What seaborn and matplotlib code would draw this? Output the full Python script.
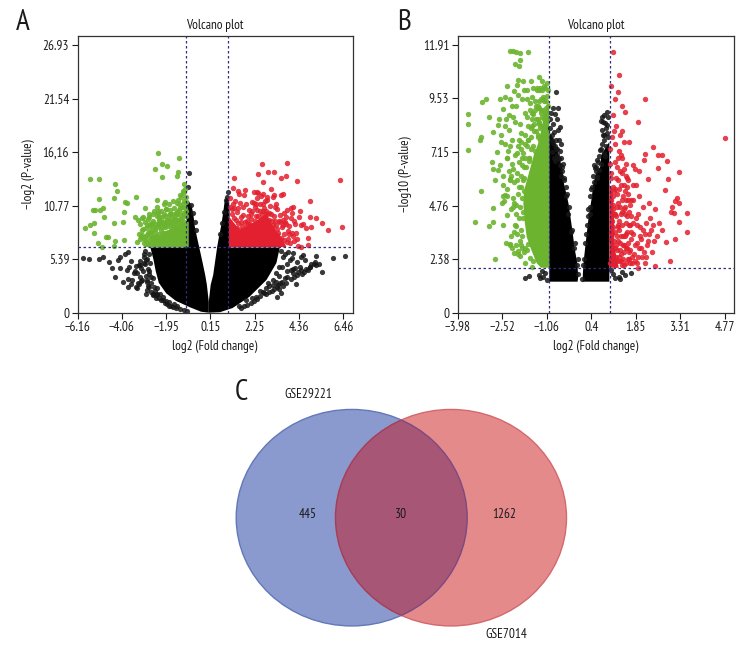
import matplotlib
matplotlib.use('Agg')
import logging
import matplotlib.pyplot as plt
from matplotlib.patches import Ellipse
import seaborn as sns

logging.getLogger('matplotlib.font_manager').setLevel(logging.ERROR)

# Panel A
a_xticks = [-6.16, -4.06, -1.95, 0.15, 2.25, 4.36, 6.46]
a_xlabels = ['−6.16', '−4.06', '−1.95', '0.15', '2.25', '4.36', '6.46']
a_yticks = [0, 5.39, 10.77, 16.16, 21.54, 26.93]
a_ylabels = ['0', '5.39', '10.77', '16,16', '21.54', '26.93']

a_green_x = [-5.56, -5.16, -4.37, -4.30, -5.13, -4.45, -3.90, -3.79, -3.38, -5.43, -5.35, -5.09, -4.93, -3.95, -3.43,
             -5.80, -5.56, -5.40, -4.90, -3.98, -4.41, -5.40, -4.80, -4.72, -5.21, -4.37, -3.95, -4.45, -5.00, -2.34,
             -1.33, -2.13, -1.93, -2.48, -1.37, -2.16, -1.45, -1.10, -1.13, -1.29, -1.37, -1.61, -2.00, -2.40,
             -3.30, -3.20, -3.10, -3.05, -2.95, -3.10, -3.00, -2.90, -2.80, -2.70, -2.75, -2.60, -2.60, -2.55, -2.50,
             -2.50, -2.40, -2.40, -2.35, -2.30, -2.30, -2.20, -2.20, -2.15, -2.10, -2.05, -2.00, -2.00, -1.95, -1.90,
             -1.90, -1.85, -1.80, -1.80, -1.75, -1.70, -1.70, -1.65, -1.60, -1.60, -1.55, -1.50, -1.50, -1.45, -1.45,
             -1.40, -1.35, -1.30, -1.30, -1.25, -1.20, -1.20, -1.15, -1.15, -1.10, -1.10, -1.05, -1.05, -1.00, -1.00,
             -3.35, -3.15, -2.85, -2.65, -2.45, -2.25, -2.05, -1.85, -1.65, -2.75, -2.35, -2.95,
             -3.25, -3.10, -2.95, -2.85, -2.78, -2.70, -2.62, -2.55, -2.48, -2.42,
             -2.36, -2.28, -2.22, -2.18, -2.12, -2.06, -2.02, -1.96, -1.92, -1.88,
             -1.82, -1.78, -1.72, -1.68, -1.62, -1.58, -1.52, -1.48, -1.42, -1.38,
             -1.32, -1.28, -1.22, -1.18, -1.12, -1.08, -1.02, -2.58, -2.33, -2.08,
             -1.84, -1.57, -1.34, -1.09, -2.68, -2.44, -2.14, -1.94, -1.74, -1.54,
             -3.20, -3.05, -2.90, -2.80, -2.68, -2.56, -2.46, -2.34, -2.26, -2.16,
             -2.04, -1.98, -1.86, -1.76, -1.66, -1.56, -1.46, -1.36, -1.26, -1.16,
             -3.00, -2.74, -2.50, -2.30, -2.10, -1.90, -1.72, -1.50, -1.33, -1.03]
a_green_y = [13.46, 13.46, 12.95, 12.25, 11.44, 11.58, 11.10, 11.00, 11.68, 10.34, 10.30, 10.34, 10.50, 10.17, 9.66,
             8.49, 8.83, 8.99, 9.60, 9.16, 9.00, 7.99, 7.58, 7.62, 7.05, 7.20, 7.30, 6.75, 6.60, 16.10,
             15.60, 14.97, 14.80, 14.43, 14.13, 13.60, 13.70, 12.90, 12.20, 11.85, 11.35, 11.20, 11.15, 11.30,
             9.30, 8.90, 9.50, 8.40, 9.10, 7.80, 7.40, 7.10, 8.00, 8.70, 9.60, 9.20, 7.60, 10.20, 8.40,
             7.00, 9.70, 10.60, 8.90, 7.90, 9.30, 10.20, 8.30, 7.30, 9.00, 10.90, 9.70, 8.00, 10.40, 8.70,
             7.20, 9.30, 10.90, 8.00, 9.90, 8.50, 7.50, 9.20, 10.50, 8.10, 9.70, 10.00, 8.80, 11.00, 9.30,
             8.40, 10.30, 9.80, 9.00, 11.60, 10.60, 9.50, 12.00, 10.00, 11.20, 9.10, 12.40, 10.50, 11.60, 9.70,
             7.10, 7.60, 7.80, 8.10, 7.60, 7.10, 7.45, 7.75, 7.35, 9.90, 10.00, 10.50,
             7.90, 8.30, 7.60, 8.80, 7.30, 8.20, 9.00, 7.20, 8.90, 7.70,
             8.60, 9.60, 7.60, 9.10, 8.00, 9.90, 8.60, 7.40, 9.30, 8.10,
             9.80, 7.30, 9.40, 8.00, 8.70, 7.40, 9.10, 7.80, 10.10, 7.30,
             8.60, 10.50, 7.60, 8.70, 9.80, 7.20, 10.20, 8.60, 7.10, 7.00,
             9.00, 7.10, 7.20, 8.20, 7.50, 7.40, 8.60, 7.10, 8.90, 8.40,
             7.40, 9.60, 8.50, 9.40, 7.80, 9.90, 8.10, 10.20, 8.80, 9.60,
             9.10, 10.40, 9.00, 10.30, 9.90, 9.40, 9.90, 9.30, 9.30, 10.90,
             7.00, 8.90, 7.50, 9.10, 7.00, 7.70, 7.10, 7.30, 10.90, 11.10]

a_red_x = [1.28, 2.58, 3.80, 2.39, 2.86, 3.16, 3.52, 3.73, 2.65, 4.28, 6.30, 1.23, 1.47, 1.79, 2.34, 3.16, 3.60,
           4.87, 4.08, 4.40, 3.95, 4.87, 5.18, 5.42, 4.90, 4.70, 5.73, 6.40, 4.47, 4.80, 4.80, 3.92, 4.31, 4.47,
           4.02, 1.10, 1.18, 1.25, 1.32, 1.40, 1.48, 1.55, 1.62, 1.70, 1.78, 1.85, 1.92, 2.00, 2.05, 2.12, 2.18,
           2.25, 2.30, 2.38, 2.45, 2.50, 2.55, 2.60, 2.65, 2.72, 2.78, 2.85, 2.92, 2.98, 3.05, 3.12, 3.18, 3.25,
           3.32, 3.40, 3.48, 3.55, 3.62, 3.70, 3.78, 3.85, 3.95, 4.05, 4.15, 4.25, 1.15, 1.35, 1.60, 1.90, 2.10,
           2.35, 2.50, 2.70, 2.95, 3.10, 3.30, 3.50, 3.65, 3.80, 2.20, 2.62, 2.42, 2.82, 3.02, 1.72, 1.50, 1.22,
           1.12, 1.20, 1.30, 1.42, 1.52, 1.65, 1.75, 1.88, 1.98, 2.08,
           2.15, 2.22, 2.28, 2.36, 2.44, 2.52, 2.58, 2.66, 2.74, 2.80,
           2.88, 2.95, 3.00, 3.08, 3.15, 3.22, 3.30, 3.38, 3.45, 3.52,
           3.58, 3.66, 3.72, 3.82, 3.90, 4.00, 4.10, 4.20, 4.35, 4.55,
           1.08, 1.16, 1.26, 1.38, 1.46, 1.58, 1.68, 1.82, 1.94, 2.02,
           2.12, 2.20, 2.32, 2.40, 2.48, 2.56, 2.68, 2.76, 2.84, 2.90,
           3.02, 3.10, 3.20, 3.28, 3.36, 3.44, 3.60, 3.75, 3.88, 4.12]
a_red_y = [13.50, 15.00, 15.10, 14.00, 14.15, 14.15, 13.50, 13.70, 13.10, 13.25, 13.35, 12.50, 12.20, 12.35, 12.10, 11.80, 11.95,
           11.20, 10.67, 10.27, 10.50, 9.66, 9.50, 9.00, 8.66, 8.50, 8.32, 8.66, 8.83, 7.50, 6.80, 7.00, 6.70, 6.65,
           8.00, 11.50, 10.40, 9.50, 11.20, 10.10, 9.00, 11.00, 9.60, 10.60, 9.10, 10.90, 8.90, 10.30, 9.40, 11.10, 8.80,
           10.60, 9.70, 11.50, 9.00, 10.20, 11.70, 9.40, 10.90, 8.70, 10.20, 11.30, 9.30, 10.70, 8.50, 11.60, 9.70, 8.80,
           10.40, 9.20, 11.80, 8.60, 10.00, 9.10, 10.30, 8.20, 9.50, 7.70, 8.90, 7.40, 8.50, 8.40, 8.30, 8.40, 8.50,
           8.40, 8.30, 8.20, 8.20, 8.00, 7.80, 7.50, 7.30, 7.10, 12.10, 11.90, 12.00, 11.60, 12.40, 11.80, 11.90, 10.90,
           7.20, 8.20, 7.60, 8.50, 7.10, 8.70, 7.50, 9.20, 7.20, 9.90,
           8.40, 7.40, 9.20, 10.30, 8.00, 7.10, 9.90, 10.20, 7.50, 9.00,
           7.20, 10.00, 8.20, 9.20, 7.10, 10.60, 8.40, 7.40, 9.80, 7.10,
           8.80, 7.90, 9.60, 7.40, 8.70, 10.00, 9.20, 8.00, 9.60, 8.90,
           10.60, 9.90, 10.50, 9.30, 10.50, 9.10, 9.80, 8.60, 9.70, 8.90,
           10.20, 11.00, 10.90, 9.70, 10.90, 8.70, 10.50, 11.20, 9.90, 8.40,
           9.90, 8.80, 9.20, 10.90, 8.00, 9.10, 9.30, 8.90, 7.90, 7.20]

a_black_x = [-5.90, -5.60, -5.16, -4.93, -4.14, -3.74, -4.37, -3.98, -3.74, -3.35, -2.87, -4.14, -3.82, -3.50, -3.19,
             -2.87, -3.24, -2.92, -2.76, -2.60, -2.45, -2.90, -4.65, -4.50, -4.25, -3.60, -3.40, -3.15, -3.00, -2.75,
             -2.65, -3.55, -3.90, -2.80, -3.30,
             5.97, 6.53, 5.18, 4.55, 4.47, 5.42, 5.18, 4.87, 4.47, 4.08, 3.76, 3.45, 3.29, 3.05, 2.80, 3.92, 4.08,
             3.76, 4.85, 5.05, 4.25, 4.65, 4.20, 3.95, 3.50, 3.30, 4.05, 3.40,
             -0.85, -0.90, -0.78, -0.70, -0.60, -0.55, 0.72, 0.80, 0.90, 0.98, 0.95, 0.60,
             -3.00, -2.95, -2.85, -2.80, -2.75, -2.70, -2.68, -2.60, -2.55, -2.50,
             -2.40, -2.30, -2.20, -2.10, -2.00, -1.90, -1.80, -1.70, -1.60, -1.50,
             -3.10, -3.25, -3.40, -3.60, -3.75, -3.20, -3.05, -2.90, -2.65, -2.45,
             3.50, 3.60, 3.70, 3.85, 4.00, 4.15, 4.30, 3.40, 3.25, 3.10,
             2.95, 2.80, 2.65, 2.50, 2.35, 2.20, 2.05, 1.90, 1.75, 1.60,
             4.50, 4.70, 4.90, 5.10, 5.30, 3.70, 3.55, 3.35, 3.15, 2.95,
             -3.35, -3.20, -3.00, -2.85, -2.75, -2.95, -3.45, -3.70, -3.15, -2.60,
             -2.40, -2.25, -2.10, -1.95, -1.80, -1.65, -1.45, -1.30, -1.10, -0.95,
             3.55, 3.40, 3.25, 3.10, 2.90, 2.70, 2.50, 2.30, 2.10, 1.85,
             3.80, 3.95, 4.10, 4.25, 4.40, 4.60, 4.80, 3.60, 3.75, 1.50]
a_black_y = [5.47, 5.37, 5.37, 5.64, 5.64, 6.14, 3.62, 3.12, 2.62, 2.45, 2.30, 4.46, 4.30, 3.96, 3.62,
             3.12, 4.80, 5.30, 5.90, 1.90, 1.50, 1.85, 5.10, 4.45, 5.35, 5.20, 4.70, 4.50, 5.60, 4.20,
             3.55, 3.30, 5.90, 2.70, 2.95,
             5.47, 5.70, 5.70, 5.80, 5.60, 4.13, 4.80, 4.63, 4.30, 3.96, 3.62, 3.00, 2.62, 2.20, 1.90, 5.30, 6.00,
             4.90, 4.60, 4.90, 5.05, 5.30, 2.90, 3.35, 1.95, 1.60, 4.40, 2.40,
             14.10, 12.60, 10.80, 10.00, 9.10, 8.30, 9.00, 10.10, 11.30, 12.10, 11.60, 7.90,
             5.90, 4.90, 5.40, 4.40, 3.90, 5.00, 3.00, 3.50, 2.60, 2.20,
             1.90, 1.50, 1.30, 1.60, 1.00, 0.90, 1.10, 0.70, 0.90, 0.50,
             3.30, 2.85, 2.60, 2.85, 3.40, 5.20, 4.20, 3.70, 2.05, 1.75,
             6.20, 5.60, 5.90, 6.10, 5.50, 4.50, 4.10, 4.60, 4.00, 3.30,
             2.70, 2.50, 2.10, 1.70, 1.40, 1.20, 1.00, 0.80, 0.70, 0.50,
             3.90, 4.40, 4.90, 5.10, 4.90, 3.50, 3.10, 2.80, 2.40, 2.10,
             4.00, 4.80, 5.00, 3.30, 2.60, 6.20, 4.20, 4.60, 3.20, 1.80,
             2.50, 1.90, 1.30, 1.20, 0.70, 0.60, 0.70, 0.35, 0.30, 0.20,
             4.60, 3.70, 3.10, 2.80, 3.00, 2.00, 2.20, 1.60, 1.50, 1.25,
             4.20, 4.30, 3.60, 3.80, 4.60, 4.10, 4.30, 2.70, 3.00, 0.70]

a_black_left_x = [0.07, -0.02, -0.10, -0.25, -0.39, -0.50, -0.59, -0.67, -0.75, -0.90, -1.00, -0.95,
                  -2.70, -2.55, -2.45, -2.30, -1.95, -1.50, -0.83, -0.30, 0.07]
a_black_left_y = [1.10, 2.80, 3.80, 5.30, 6.64, 7.70, 8.65, 10.00, 10.80, 11.30, 10.80, 6.55,
                  6.55, 5.30, 4.20, 3.00, 1.95, 1.20, 0.55, 0.10, 0.00]
a_black_right_x = [0.07, 0.16, 0.28, 0.38, 0.47, 0.56, 0.65, 0.75, 0.83, 1.03, 1.06, 1.03,
                   3.44, 3.28, 2.81, 2.00, 1.20, 0.60, 0.07]
a_black_right_y = [1.10, 2.80, 3.80, 5.30, 6.64, 7.70, 8.65, 10.00, 11.30, 11.60, 10.00, 6.55,
                   6.55, 5.00, 3.30, 1.60, 0.47, 0.05, 0.00]
a_green_solid_x = [-0.88, -0.88, -1.30, -1.78, -2.25, -2.73, -3.04]
a_green_solid_y = [6.60, 9.16, 8.99, 8.32, 7.82, 7.14, 6.60]
a_red_solid_x = [1.03, 1.03, 1.54, 2.17, 2.81, 3.12, 3.59, 3.76]
a_red_solid_y = [6.60, 9.66, 8.32, 8.99, 10.00, 8.65, 7.31, 6.60]

# Panel B
b_xticks = [-3.98, -2.52, -1.06, 0.4, 1.85, 3.31, 4.77]
b_xlabels = ['−3.98', '−2.52', '−1.06', '0.4', '1.85', '3.31', '4.77']
b_yticks = [0, 2.38, 4.76, 7.15, 9.53, 11.91]
b_ylabels = ['0', '2.38', '4.76', '7.15', '9.53', '11.91']

b_green_x = [-2.26, -2.17, -2.06, -1.95, -1.69, -1.94, -2.09, -1.96, -2.02, -2.04, -2.35, -1.84, -1.59, -1.30, -1.22, -1.11,
             -1.06, -3.19, -3.06, -2.59, -2.43, -3.63, -3.63, -2.95, -2.48, -2.30, -2.65, -2.81, -3.22, -3.25, -3.65,
             -2.87, -2.81, -2.65, -3.22, -2.81, -2.54, -2.43, -3.41, -2.97, -2.81, -2.48, -2.76, -2.19, -2.15, -1.94, -1.78, -1.56,
             -2.70, -2.60, -2.55, -2.50, -2.45, -2.40, -2.38, -2.35, -2.30, -2.28, -2.25, -2.20, -2.18, -2.15, -2.10,
             -2.08, -2.05, -2.00, -1.98, -1.95, -1.90, -1.88, -1.85, -1.80, -1.78, -1.75, -1.70, -1.68, -1.65, -1.60,
             -1.58, -1.55, -1.50, -1.48, -1.45, -1.40, -1.38, -1.35, -1.30, -1.28, -1.25, -1.20, -1.18, -1.15, -1.10,
             -1.08, -1.05, -1.02, -2.25, -2.12, -2.02, -1.92, -1.82, -1.72, -1.62, -1.52, -1.42, -1.32, -1.22, -1.12,
             -2.35, -2.22, -2.08, -1.98, -1.86, -1.76, -1.64, -1.54, -1.44, -1.34, -1.24, -1.14, -1.04, -2.00, -1.90, -1.80,
             -2.55, -2.50, -2.42, -2.38, -2.33, -2.28, -2.24, -2.19, -2.16, -2.11,
             -2.07, -2.03, -1.99, -1.96, -1.93, -1.89, -1.86, -1.83, -1.81, -1.77,
             -1.74, -1.71, -1.69, -1.66, -1.63, -1.61, -1.59, -1.56, -1.53, -1.51,
             -1.47, -1.44, -1.42, -1.39, -1.36, -1.33, -1.31, -1.28, -1.25, -1.22,
             -2.18, -2.10, -2.03, -1.97, -1.91, -1.87, -2.30, -2.22, -2.14, -2.06,
             -1.20, -1.16, -1.12, -1.09, -1.06, -1.03, -1.15, -1.07, -1.27, -1.35,
             -2.75, -2.62, -2.50, -2.44, -2.36, -2.26, -2.20, -2.12, -2.04, -2.00,
             -1.95, -1.92, -1.88, -1.86, -1.84, -1.84, -1.82, -1.90, -1.78, -1.76,
             -1.72, -1.70, -1.66, -1.62, -1.58, -1.54, -1.50, -1.46, -1.42, -1.38,
             -1.34, -1.30, -1.26, -1.22, -1.18, -1.14, -2.40, -2.28, -2.16, -2.08]
b_green_y = [11.66, 11.65, 11.60, 11.55, 11.60, 11.25, 11.05, 10.98, 10.36, 10.15, 10.09, 10.30, 10.33, 10.50, 10.30, 10.00,
             9.65, 9.39, 9.50, 9.50, 9.58, 8.84, 8.38, 8.72, 9.05, 8.80, 8.35, 8.06, 7.83, 7.70, 7.24,
             6.72, 6.39, 6.35, 5.43, 4.67, 4.87, 5.24, 4.05, 3.87, 4.05, 3.90, 2.39, 2.86, 2.65, 2.53, 2.20, 2.05,
             7.15, 6.55, 7.90, 5.70, 4.95, 8.60, 6.90, 4.35, 8.15, 5.95, 7.40, 9.20, 6.40, 3.60, 8.50,
             4.80, 7.10, 9.70, 5.60, 3.20, 8.00, 6.55, 4.50, 9.90, 7.50, 5.30, 8.70, 3.05, 6.75, 9.35,
             7.80, 5.95, 10.00, 8.40, 7.20, 9.20, 6.60, 8.60, 9.90, 7.70, 8.90, 9.50, 6.90, 8.20, 9.10,
             7.50, 8.60, 9.20, 3.05, 9.85, 2.75, 7.30, 6.00, 9.50, 4.25, 8.85, 8.10, 9.10, 7.60, 8.80,
             5.20, 6.10, 3.85, 7.70, 5.10, 7.90, 6.90, 8.30, 6.40, 7.90, 8.30, 7.10, 8.00, 2.60, 3.00, 2.70,
             7.60, 6.10, 8.30, 5.50, 7.20, 9.50, 4.60, 6.60, 8.70, 3.90,
             9.20, 5.90, 7.40, 4.20, 8.40, 6.10, 9.50, 7.10, 5.40, 8.90,
             6.50, 9.90, 7.70, 8.30, 6.90, 9.00, 7.30, 8.60, 9.60, 7.40,
             8.10, 9.00, 7.00, 9.90, 7.80, 8.40, 9.40, 8.20, 9.00, 9.90,
             5.10, 7.00, 3.50, 6.70, 5.60, 2.90, 6.30, 3.40, 5.80, 4.40,
             9.60, 10.10, 8.90, 9.40, 10.20, 9.90, 8.60, 8.80, 10.00, 9.20,
             5.90, 8.60, 5.20, 7.50, 6.90, 5.90, 7.70, 4.90, 6.20, 5.30,
             4.70, 3.70, 6.90, 3.40, 4.20, 5.90, 6.50, 7.60, 2.90, 6.90,
             7.40, 2.80, 7.70, 2.45, 8.20, 8.90, 2.30, 9.40, 8.60, 10.00,
             9.10, 8.50, 9.50, 8.70, 9.00, 9.40, 3.10, 3.00, 4.70, 3.00]

b_red_x = [1.10, 1.32, 1.04, 1.26, 1.18, 2.15, 1.41, 1.50, 1.12, 1.94, 4.78, 2.41, 2.60, 2.71, 2.16, 2.87, 2.14, 3.26, 2.60,
           1.78, 1.84, 1.95, 2.27, 2.91, 2.80, 3.20, 3.28, 3.15, 3.04, 3.01, 3.10, 3.53, 3.26, 3.53, 3.15, 2.85, 2.98, 2.49,
           2.16, 1.94, 1.02, 1.05, 1.08, 1.10, 1.13, 1.15, 1.18, 1.20, 1.22, 1.25, 1.28, 1.30, 1.32, 1.35, 1.38, 1.40,
           1.42, 1.45, 1.48, 1.50, 1.52, 1.55, 1.58, 1.60, 1.62, 1.65, 1.68, 1.70, 1.75, 1.80, 1.85, 1.90, 1.95, 2.00,
           2.05, 2.10, 2.15, 2.20, 2.25, 2.30, 2.35, 2.42, 2.50, 2.55, 2.62, 2.70, 1.03, 1.07, 1.12, 1.17, 1.23, 1.27,
           1.33, 1.37, 1.43, 1.47, 1.53, 1.57, 1.63, 1.67, 1.72, 1.78, 1.82, 1.88, 1.93, 2.03, 2.13, 2.23, 2.33, 2.45,
           1.01, 1.04, 1.06, 1.09, 1.11, 1.14, 1.16, 1.19, 1.21, 1.24,
           1.26, 1.29, 1.31, 1.34, 1.36, 1.39, 1.41, 1.44, 1.46, 1.49,
           1.51, 1.54, 1.56, 1.59, 1.61, 1.64, 1.66, 1.69, 1.71, 1.74,
           1.03, 1.07, 1.12, 1.18, 1.24, 1.30, 1.36, 1.42, 1.48, 1.55,
           1.78, 1.83, 1.88, 1.93, 1.98, 2.04, 2.09, 2.18, 2.28, 2.38,
           1.02, 1.04, 1.06, 1.08, 1.10, 1.12, 1.14, 1.16, 1.18, 1.20,
           1.22, 1.24, 1.26, 1.28, 1.30, 1.33, 1.36, 1.38, 1.40, 1.43,
           1.46, 1.48, 1.50, 1.53, 1.56, 1.58, 1.60, 1.63, 1.66, 1.70,
           1.20, 1.26, 1.33, 1.40, 1.46, 1.52, 1.60, 1.76, 1.86, 1.96]
b_red_y = [11.59, 10.58, 10.10, 9.84, 9.51, 9.51, 9.20, 8.95, 8.80, 8.47, 7.76, 7.36, 7.02, 7.02, 7.06, 6.77, 6.80, 6.28, 6.42,
           6.55, 6.40, 6.30, 5.95, 5.95, 5.46, 5.09, 4.90, 4.95, 4.72, 4.50, 4.42, 4.42, 4.05, 3.58, 3.30, 3.16, 2.31, 2.09,
           2.19, 1.97, 7.30, 6.20, 4.10, 5.60, 8.10, 3.20, 6.70, 2.50, 8.30, 4.70, 5.90, 7.20, 3.70, 6.30, 2.30, 8.10,
           5.00, 3.00, 7.60, 4.40, 6.10, 2.20, 3.60, 5.30, 7.60, 2.70, 4.80, 3.30, 5.70, 2.60, 4.20, 3.10, 5.20, 3.80,
           2.50, 4.70, 3.50, 4.00, 3.20, 4.90, 3.70, 3.90, 4.60, 3.40, 4.00, 3.70, 2.40, 3.50, 4.80, 2.10, 5.30, 3.90,
           2.80, 4.40, 3.40, 2.10, 4.00, 6.00, 2.40, 3.90, 2.20, 5.00, 3.00, 2.20, 4.40, 3.30, 2.70, 3.00, 4.20, 3.20,
           2.20, 3.30, 5.00, 2.60, 3.80, 4.40, 2.90, 5.50, 2.30, 3.40,
           4.90, 2.50, 4.10, 3.10, 5.70, 2.10, 3.90, 5.20, 2.70, 3.40,
           4.70, 2.90, 5.60, 2.40, 3.10, 4.50, 2.20, 3.60, 5.00, 2.50,
           6.00, 7.80, 5.20, 7.50, 6.50, 5.50, 7.00, 6.20, 5.70, 5.00,
           3.50, 2.30, 3.90, 2.50, 3.40, 2.90, 3.70, 2.50, 3.50, 2.70,
           6.60, 2.40, 3.60, 2.90, 4.60, 2.20, 5.40, 3.60, 4.40, 3.00,
           4.30, 2.80, 3.80, 3.20, 2.30, 4.70, 2.60, 3.40, 4.50, 2.40,
           4.60, 3.00, 5.40, 3.50, 4.30, 2.90, 5.90, 3.90, 2.80, 4.30,
           6.00, 6.90, 7.90, 6.90, 6.40, 6.60, 5.00, 4.00, 5.70, 2.90]

b_black_x = [-0.77, -0.68, -0.79, -0.63, -0.90, -0.86, -0.82, -0.75, -0.72, -0.66, -0.60, -0.55, -0.50, -0.70, -0.62, -0.95, -0.88, -0.80,
             -1.77, -1.64, -1.33, -1.28, -1.17, -1.12, -1.05, -1.22,
             0.80, 0.91, 0.75, 0.91, 0.75, 0.80, 0.69, 0.80, 0.58, 0.86, 0.72, 0.65, 0.52, 0.60, 0.95, 0.88, 0.78,
             1.51, 1.70, 1.29, 1.18, 1.40, 1.10, 1.05, 1.35,
             -0.95, -0.90, -0.85, -0.80, -0.76, -0.72, -0.68, -0.64, -0.60, -0.56,
             -0.93, -0.87, -0.83, -0.74, -0.66, -0.58, -0.52, -0.48, -0.44, -0.40,
             0.40, 0.46, 0.50, 0.56, 0.62, 0.66, 0.70, 0.76, 0.82, 0.88,
             0.92, 0.96, 0.85, 0.78, 0.72, 0.58, 0.54, 0.48, 0.36, 0.30,
             -0.03, -0.04, -0.08, -0.12, -0.18, -0.22, -0.27, -0.32, -0.38, -0.42,
             0.10, 0.13, 0.16, 0.18, 0.23, 0.26, 0.30, 0.34, 0.37, 0.43]
b_black_y = [9.80, 9.10, 8.85, 8.25, 7.90, 7.55, 8.05, 7.30, 7.00, 6.85, 7.50, 6.30, 5.90, 8.15, 6.55, 8.60, 7.15, 6.75,
             1.53, 1.65, 1.68, 1.53, 1.60, 1.75, 1.45, 1.85,
             8.79, 8.94, 8.70, 8.35, 8.13, 7.70, 7.25, 7.10, 6.80, 6.95, 6.60, 6.35, 6.45, 6.00, 7.80, 7.40, 8.50,
             1.68, 1.75, 1.60, 1.53, 1.83, 1.70, 1.90, 1.50,
             8.20, 7.70, 8.40, 7.40, 7.70, 7.30, 6.90, 7.20, 6.90, 6.50,
             8.90, 9.10, 6.90, 8.60, 7.70, 6.10, 6.60, 6.00, 5.60, 5.30,
             5.50, 6.10, 5.80, 6.50, 6.70, 6.95, 7.30, 7.50, 7.90, 8.20,
             8.00, 8.70, 8.45, 7.90, 8.55, 6.10, 6.30, 6.55, 4.70, 4.30,
             1.70, 2.40, 2.10, 3.10, 2.90, 3.70, 3.60, 4.70, 4.40, 5.20,
             1.50, 2.10, 2.40, 3.10, 3.50, 3.90, 4.60, 4.40, 5.20, 5.60]

b_black_left_x = [-0.98, -0.05, -0.03, -0.06, -0.14, -0.24, -0.35, -0.42, -0.50, -0.55, -0.65, -0.75, -0.90, -0.98]
b_black_left_y = [1.38, 1.38, 1.60, 2.20, 2.80, 3.83, 4.87, 5.30, 5.76, 6.40, 6.90, 7.40, 7.90, 8.00]
b_black_right_x = [0.12, 0.12, 0.15, 0.19, 0.30, 0.40, 0.47, 0.55, 0.70, 0.72, 0.85, 0.99, 0.99]
b_black_right_y = [1.38, 1.70, 2.30, 2.80, 4.12, 5.00, 5.76, 6.20, 6.50, 7.00, 7.30, 7.60, 1.38]
b_green_solid_x = [-0.98, -1.25, -1.39, -1.60, -1.72, -1.78, -1.83, -1.80, -1.65, -1.50, -1.30, -1.20, -1.05, -0.98]
b_green_solid_y = [2.00, 2.00, 2.20, 2.90, 3.38, 4.00, 4.87, 5.46, 6.20, 6.94, 7.70, 8.43, 9.30, 9.30]
b_red_solid_x = [0.99, 0.99, 1.10, 1.15, 1.15, 1.25, 1.30]
b_red_solid_y = [2.00, 5.70, 5.50, 4.00, 3.00, 2.30, 2.00]

# Panel C
venn_sizes = ['445', '30', '1262']
venn_names = ['GSE29221', 'GSE7014']

GREEN = '#6cb42f'
RED = '#e3202f'
NAVY = '#2e2e80'
FONT = ['PT Sans Narrow', 'Fira Sans Condensed', 'Roboto Condensed', 'Liberation Sans', 'DejaVu Sans']

sns.set_theme(style='ticks')
plt.rcParams['font.family'] = FONT
plt.rcParams['axes.edgecolor'] = '#333333'
plt.rcParams['text.color'] = '#1a1a1a'
plt.rcParams['xtick.color'] = '#1a1a1a'
plt.rcParams['ytick.color'] = '#1a1a1a'
plt.rcParams['axes.labelcolor'] = '#1a1a1a'

W, H = 756, 660
fig = plt.figure(figsize=(W / 100, H / 100), dpi=100, facecolor='white')


def px_axes(left, top, right, bottom):
    return fig.add_axes([left / W, 1 - bottom / H, (right - left) / W, (bottom - top) / H])


def volcano(ax, green, red, black, solids, xlim, ylim, xticks, xlabels, yticks, ylabels, ylabel, label_x, vlines, hline):
    for sx, sy, col in solids:
        ax.fill(sx, sy, color=col, linewidth=0, zorder=1.5)
    sns.scatterplot(x=black[0], y=black[1], color='#161616', marker='o', s=14, linewidth=0, alpha=0.85, ax=ax, zorder=2)
    sns.scatterplot(x=green[0], y=green[1], color=GREEN, marker='o', s=15, linewidth=0, alpha=0.9, ax=ax, zorder=2)
    sns.scatterplot(x=red[0], y=red[1], color=RED, marker='o', s=15, linewidth=0, alpha=0.85, ax=ax, zorder=2)
    for v in vlines:
        ax.axvline(v, color=NAVY, lw=0.9, ls=(0, (2, 2)), zorder=3)
    ax.axhline(hline, color=NAVY, lw=0.9, ls=(0, (2, 2)), zorder=3)
    ax.set_xlim(*xlim)
    ax.set_ylim(*ylim)
    ax.set_xticks(xticks, xlabels)
    ax.set_yticks(yticks, ylabels)
    ax.tick_params(length=4, width=0.8, labelsize=9.5, pad=2)
    ax.set_title('Volcano plot', fontsize=9.5, pad=5)
    ax.set_xlabel('log2 (Fold change)', fontsize=9.5)
    ax.xaxis.set_label_coords(0.5, -0.098)
    ax.set_ylabel(ylabel, fontsize=9.5)
    ax.yaxis.set_label_coords(label_x, 0.5)
    for s in ax.spines.values():
        s.set_linewidth(0.9)


ax_a = px_axes(77.5, 36, 352.7, 312.7)
volcano(ax_a, (a_green_x, a_green_y), (a_red_x, a_red_y), (a_black_x, a_black_y),
        [(a_black_left_x, a_black_left_y, 'black'), (a_black_right_x, a_black_right_y, 'black'),
         (a_green_solid_x, a_green_solid_y, GREEN), (a_red_solid_x, a_red_solid_y, RED)],
        (-6.16, 6.90), (0, 27.83), a_xticks, a_xlabels, a_yticks, a_ylabels, '−log2 (P-value)', -0.155, [-1, 1], 6.64)

ax_b = px_axes(457.7, 36, 733.7, 312.7)
volcano(ax_b, (b_green_x, b_green_y), (b_red_x, b_red_y), (b_black_x, b_black_y),
        [(b_black_left_x, b_black_left_y, 'black'), (b_black_right_x, b_black_right_y, 'black'),
         (b_green_solid_x, b_green_solid_y, GREEN), (b_red_solid_x, b_red_solid_y, RED)],
        (-3.98, 5.065), (0, 12.31), b_xticks, b_xlabels, b_yticks, b_ylabels, '−log10 (P-value)', -0.165, [-1, 1], 2)

# overlay in pixel units for the venn diagram and the panel letters
ov = fig.add_axes([0, 0, 1, 1], facecolor='none')
ov.set_xlim(0, W)
ov.set_ylim(H, 0)
ov.axis('off')
blue_c = Ellipse((351.7, 517.7), 231, 216.5, facecolor='#8a9ace', edgecolor='#6478b8', lw=1.0)
red_c = Ellipse((451, 517.7), 231, 216.5, facecolor='#e58a8a', edgecolor='#d4686e', lw=1.0)
mid_c = Ellipse((351.7, 517.7), 231, 216.5, facecolor='#a85675', edgecolor='#7d4a80', lw=1.0)
ov.add_patch(blue_c)
ov.add_patch(red_c)
ov.add_patch(mid_c)
mid_c.set_clip_path(Ellipse((451, 517.7), 231, 216.5, transform=ov.transData))
edge_c = Ellipse((451, 517.7), 231, 216.5, facecolor='none', edgecolor='#a0405f', lw=1.0)
ov.add_patch(edge_c)
edge_c.set_clip_path(Ellipse((351.7, 517.7), 231, 216.5, transform=ov.transData))

ov.text(308, 514, venn_sizes[0], ha='center', va='center', fontsize=9.5)
ov.text(401.5, 514, venn_sizes[1], ha='center', va='center', fontsize=9.5)
ov.text(504, 514, venn_sizes[2], ha='center', va='center', fontsize=9.5)
ov.text(308, 395, venn_names[0], ha='center', va='center', fontsize=9.5)
ov.text(506, 635, venn_names[1], ha='center', va='center', fontsize=9.5)

ov.text(23, 23, 'A', ha='center', va='center', fontsize=21)
ov.text(404, 23, 'B', ha='center', va='center', fontsize=21)
ov.text(241, 393, 'C', ha='center', va='center', fontsize=21)

fig.savefig('out.png', dpi=100, facecolor='white')
